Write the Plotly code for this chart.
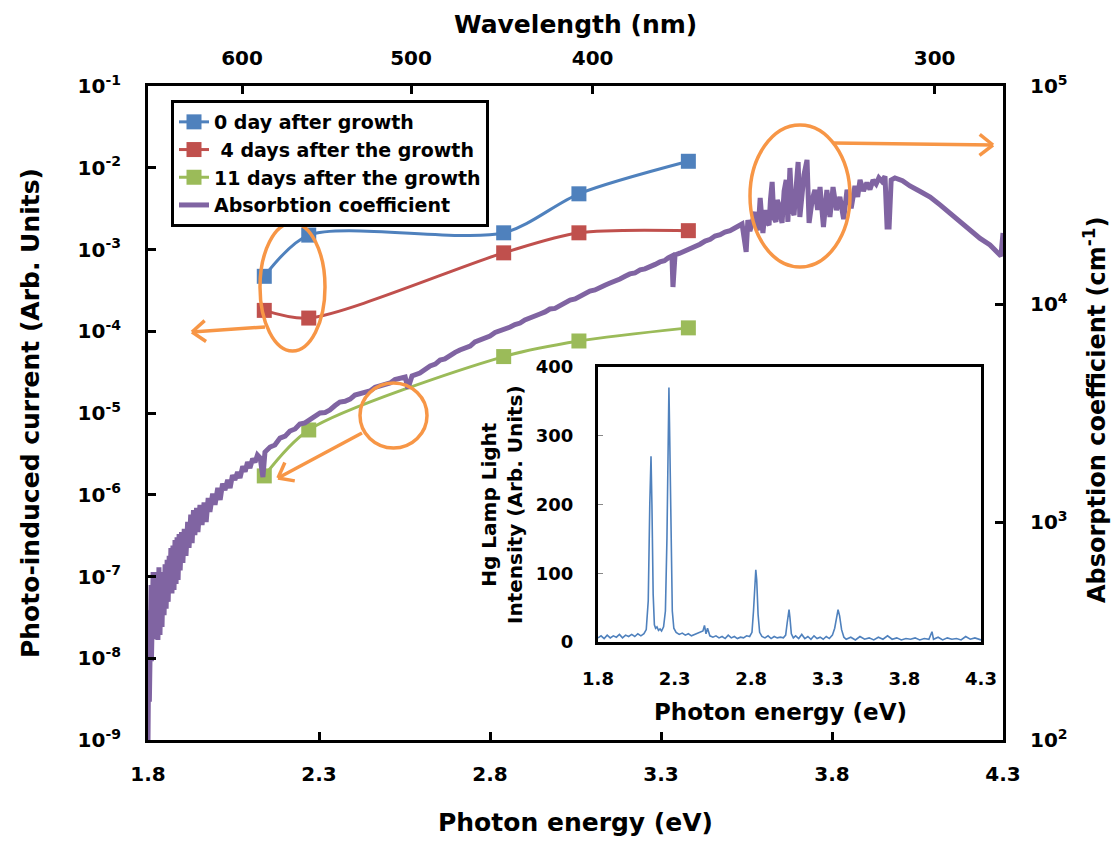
import math
import plotly.graph_objects as go

# ---------------- data ----------------
hg_energy = [2.14, 2.27, 2.84, 3.06, 3.38]          # Hg lamp lines (eV)
current_0day = [4.7e-4, 1.5e-3, 1.6e-3, 4.8e-3, 1.2e-2]
current_4days = [1.8e-4, 1.45e-4, 9.1e-4, 1.6e-3, 1.7e-3]
current_11days = [1.7e-6, 6.2e-6, 4.9e-5, 7.6e-5, 1.1e-4]

absorb_energy = [
    1.800, 1.801, 1.802, 1.803, 1.804, 1.806, 1.807, 1.809, 1.810, 1.812,
    1.813, 1.815, 1.818, 1.821, 1.823, 1.826, 1.829, 1.832, 1.835, 1.838,
    1.841, 1.844, 1.847, 1.850, 1.853, 1.856, 1.859, 1.862, 1.864, 1.867,
    1.870, 1.873, 1.876, 1.879, 1.882, 1.885, 1.888, 1.891, 1.894, 1.898,
    1.902, 1.906, 1.911, 1.916, 1.920, 1.925, 1.929, 1.933, 1.937, 1.942,
    1.946, 1.952, 1.958, 1.964, 1.970, 1.976, 1.981, 1.989, 1.996, 2.004,
    2.011, 2.018, 2.025, 2.033, 2.040, 2.047, 2.054, 2.062, 2.069, 2.077,
    2.084, 2.091, 2.098, 2.106, 2.113, 2.120, 2.128, 2.136, 2.142, 2.157,
    2.171, 2.186, 2.201, 2.215, 2.230, 2.244, 2.259, 2.274, 2.288, 2.303,
    2.318, 2.332, 2.347, 2.361, 2.376, 2.391, 2.405, 2.420, 2.435, 2.449,
    2.464, 2.478, 2.493, 2.508, 2.522, 2.537, 2.552, 2.560, 2.572, 2.595,
    2.610, 2.625, 2.640, 2.654, 2.668, 2.683, 2.698, 2.712, 2.727, 2.742,
    2.756, 2.771, 2.786, 2.800, 2.815, 2.829, 2.844, 2.859, 2.873, 2.888,
    2.902, 2.917, 2.932, 2.946, 2.961, 2.975, 2.990, 3.005, 3.019, 3.034,
    3.049, 3.063, 3.078, 3.092, 3.107, 3.122, 3.136, 3.151, 3.166, 3.180,
    3.195, 3.209, 3.224, 3.239, 3.253, 3.268, 3.283, 3.297, 3.310, 3.321,
    3.332, 3.335, 3.341, 3.355, 3.370, 3.385, 3.399, 3.414, 3.429, 3.444,
    3.458, 3.473, 3.487, 3.502, 3.516, 3.527, 3.537, 3.549, 3.554, 3.560,
    3.566, 3.571, 3.575, 3.580, 3.584, 3.590, 3.598, 3.603, 3.607, 3.612,
    3.616, 3.620, 3.625, 3.630, 3.636, 3.640, 3.645, 3.650, 3.654, 3.660,
    3.666, 3.671, 3.677, 3.683, 3.689, 3.695, 3.701, 3.706, 3.712, 3.718,
    3.727, 3.733, 3.742, 3.750, 3.758, 3.765, 3.775, 3.785, 3.794, 3.803,
    3.813, 3.823, 3.834, 3.844, 3.856, 3.867, 3.875, 3.882, 3.892, 3.902,
    3.911, 3.920, 3.929, 3.937, 3.946, 3.955, 3.961, 3.967, 3.973, 3.984,
    4.006, 4.028, 4.058, 4.087, 4.116, 4.145, 4.175, 4.204, 4.233, 4.262,
    4.294, 4.300,
]
absorb_coeff = [
    100, 330, 110, 394, 150, 439, 170, 514, 230, 560,
    259, 590, 300, 542, 290, 590, 288, 620, 303, 571,
    330, 590, 374, 640, 400, 670, 430, 700, 488, 760,
    470, 780, 488, 826, 520, 850, 542, 880, 600, 900,
    650, 930, 700, 1000, 760, 1080, 800, 1135, 871, 1160,
    900, 1197, 968, 1230, 1000, 1288, 1112, 1350, 1200, 1432,
    1262, 1500, 1400, 1559, 1432, 1640, 1560, 1694, 1592, 1800,
    1700, 1884, 1770, 1950, 1880, 2028, 1966, 1608, 2094, 2208,
    2255, 2427, 2477, 2614, 2671, 2816, 2850, 2938, 3050, 3162,
    3180, 3265, 3420, 3550, 3580, 3664, 3820, 3865, 3900, 3990,
    4150, 4207, 4250, 4343, 4500, 4579, 4624, 4100, 4677, 4822,
    5000, 5196, 5300, 5535, 5600, 5834, 6000, 6152, 6250, 6415,
    6700, 6839, 6950, 7129, 7400, 7516, 7650, 7838, 8050, 8179,
    8450, 8625, 8700, 8995, 9200, 9487, 9550, 9886, 10150, 10430,
    10550, 10880, 11200, 11470, 11600, 11970, 12200, 12480, 12700, 13020,
    13400, 13740, 13900, 14330, 14500, 14940, 15200, 15590, 15800, 16260,
    16600, 11970, 16790, 17100, 17500, 17900, 18450, 18800, 19450, 19800,
    20500, 20800, 21380, 21700, 22310, 22700, 23280, 17330, 24270, 21600,
    23030, 25200, 26420, 22500, 21820, 30630, 21170, 25500, 26980, 23500,
    23030, 30000, 36290, 24800, 23790, 30000, 28440, 25000, 23550, 33000,
    37070, 23790, 42070, 27000, 25590, 34000, 44790, 25070, 30000, 39080,
    45790, 23550, 29980, 33370, 26980, 34410, 22540, 33370, 25070, 34410,
    26980, 30970, 24500, 33370, 27500, 34790, 31000, 37070, 33000, 36000,
    33500, 37000, 35500, 37880, 36500, 38500, 22540, 22540, 37070, 37880,
    36800, 34790, 32800, 30970, 28500, 26000, 23800, 21600, 20000, 18670,
    16600, 21170,
]

lamp_energy = [
    1.80, 1.82, 1.84, 1.86, 1.88, 1.90, 1.92, 1.94, 1.96, 1.98,
    2.00, 2.02, 2.04, 2.06, 2.08, 2.10, 2.115, 2.128, 2.138, 2.146,
    2.152, 2.16, 2.168, 2.176, 2.185, 2.195, 2.205, 2.215, 2.228, 2.24,
    2.25, 2.258, 2.263, 2.268, 2.276, 2.285, 2.295, 2.31, 2.33, 2.35,
    2.37, 2.39, 2.41, 2.43, 2.45, 2.47, 2.485, 2.495, 2.505, 2.515,
    2.53, 2.55, 2.57, 2.59, 2.61, 2.63, 2.65, 2.67, 2.69, 2.71,
    2.73, 2.75, 2.77, 2.79, 2.805, 2.815, 2.824, 2.83, 2.836, 2.845,
    2.855, 2.87, 2.89, 2.91, 2.93, 2.95, 2.97, 2.99, 3.01, 3.025,
    3.035, 3.043, 3.047, 3.053, 3.062, 3.075, 3.09, 3.11, 3.13, 3.15,
    3.17, 3.19, 3.21, 3.23, 3.25, 3.27, 3.29, 3.31, 3.33, 3.345,
    3.357, 3.367, 3.377, 3.39, 3.405, 3.42, 3.45, 3.48, 3.51, 3.54,
    3.57, 3.60, 3.63, 3.66, 3.69, 3.72, 3.75, 3.78, 3.81, 3.84,
    3.87, 3.90, 3.93, 3.96, 3.98, 3.99, 4.02, 4.05, 4.08, 4.11,
    4.14, 4.17, 4.20, 4.23, 4.26, 4.30,
]
lamp_intensity = [
    6, 9, 5, 10, 6, 9, 7, 11, 6, 10,
    8, 11, 8, 12, 9, 12, 18, 60, 200, 270,
    200, 70, 25, 20, 22, 17, 19, 16, 22, 45,
    150, 300, 370, 300, 140, 45, 20, 14, 11, 13,
    10, 12, 9, 11, 12, 14, 16, 24, 12, 20,
    9, 7, 9, 6, 8, 5, 10, 6, 8, 5,
    7, 6, 9, 8, 14, 45, 95, 105, 90, 40,
    14, 8, 6, 9, 5, 8, 6, 7, 6, 10,
    28, 45, 47, 35, 12, 6, 9, 5, 11, 5,
    8, 4, 9, 5, 7, 4, 8, 5, 10, 20,
    38, 47, 38, 18, 7, 4, 7, 3, 8, 4,
    6, 3, 7, 4, 9, 4, 6, 3, 5, 4,
    6, 3, 5, 4, 15, 4, 7, 3, 6, 4,
    5, 3, 8, 4, 6, 3,
]

energy_ticks = [1.8, 2.3, 2.8, 3.3, 3.8, 4.3]
current_ticks = [1e-9, 1e-8, 1e-7, 1e-6, 1e-5, 1e-4, 1e-3, 1e-2, 1e-1]
current_tick_labels = [f"10<sup>{e}</sup>" for e in range(-9, 0)]
absorb_ticks = [1e2, 1e3, 1e4, 1e5]
absorb_tick_labels = [f"10<sup>{e}</sup>" for e in range(2, 6)]
wl_tick_energy = [2.075, 2.569, 3.10, 4.10]
wl_tick_labels = ["600", "500", "400", "300"]
lamp_ticks = [0, 100, 200, 300, 400]

# ---------------- styling ----------------
BLUE, RED, GREEN, PURPLE, ORANGE = "#4F81BD", "#C0504D", "#9BBB59", "#8064A2", "#F79646"
FONT = "DejaVu Sans"
W, H = 1119, 843
L, R, T, B = 148, 1003, 86, 740          # main plot frame in pixels


def to_paper(x, y):
    return (x - L) / (R - L), (B - y) / (B - T)


def bold(size):
    return dict(size=size, family=FONT, color="black", weight="bold")


fig = go.Figure()

for vals, name, col in [
    (current_0day, "0 day after growth", BLUE),
    (current_4days, " 4 days after the growth", RED),
    (current_11days, "11 days after the growth", GREEN),
]:
    fig.add_trace(go.Scatter(
        x=hg_energy, y=vals, name=name, mode="lines+markers",
        line=dict(color=col, width=3, shape="spline", smoothing=0.8),
        marker=dict(symbol="square", size=15, color=col),
        xaxis="x", yaxis="y",
    ))

fig.add_trace(go.Scatter(
    x=absorb_energy, y=absorb_coeff, name="Absorbtion coefficient", mode="lines",
    line=dict(color=PURPLE, width=5),
    xaxis="x2", yaxis="y2",
))

fig.add_trace(go.Scatter(
    x=lamp_energy, y=lamp_intensity, mode="lines", showlegend=False,
    line=dict(color=BLUE, width=1.6),
    xaxis="x3", yaxis="y3",
))

axis_common = dict(showline=True, linecolor="black", linewidth=3, ticks="inside",
                   tickcolor="black", tickwidth=3, ticklen=8, showgrid=False,
                   zeroline=False, tickfont=bold(20))

ix0, _ = to_paper(598, 0)
ix1, _ = to_paper(981, 0)
_, iy1 = to_paper(0, 367)
_, iy0 = to_paper(0, 642)

fig.update_layout(
    width=W, height=H,
    margin=dict(l=L, r=W - R, t=T, b=H - B),
    paper_bgcolor="white", plot_bgcolor="white",
    font=dict(family=FONT, color="black", weight="bold"),
    xaxis=dict(**axis_common, range=[1.8, 4.3], tickvals=energy_ticks,
               ticktext=[f"{v:.1f}" for v in energy_ticks], ticklabelstandoff=14,
               anchor="y"),
    yaxis=dict(**axis_common, type="log", range=[-9, -1], tickvals=current_ticks,
               ticktext=current_tick_labels, ticklabelstandoff=20, anchor="x"),
    xaxis2=dict(**axis_common, range=[1.8, 4.3], overlaying="x", side="top",
                tickvals=wl_tick_energy, ticktext=wl_tick_labels, anchor="y2",
                ticklabelstandoff=10),
    yaxis2=dict(**axis_common, type="log", range=[2, 5], overlaying="y", side="right",
                tickvals=absorb_ticks, ticktext=absorb_tick_labels, anchor="x2",
                ticklabelstandoff=20),
    xaxis3=dict(domain=[ix0, ix1], anchor="y3", range=[1.8, 4.3], showline=True,
                mirror=True, linecolor="black", linewidth=3, ticks="", showgrid=False,
                zeroline=False, tickvals=energy_ticks,
                ticktext=[f"{v:.1f}" for v in energy_ticks], ticklabelstandoff=18,
                tickfont=bold(18)),
    yaxis3=dict(domain=[iy0, iy1], anchor="x3", range=[0, 400], showline=True,
                mirror=True, linecolor="black", linewidth=3, ticks="inside",
                ticklen=5, tickwidth=1, tickcolor="#888888", showgrid=False,
                zeroline=False, tickvals=lamp_ticks, ticklabelstandoff=18,
                tickfont=bold(18)),
    legend=dict(x=to_paper(171, 0)[0], y=to_paper(0, 100)[1], xanchor="left",
                yanchor="top", bgcolor="white", bordercolor="black", borderwidth=3,
                font=bold(19), tracegroupgap=0, itemwidth=30),
    showlegend=True,
)

# axis titles
titles = [
    ("Photon energy (eV)", 575, 822, 0, 25),
    ("Wavelength (nm)", 575, 25, 0, 25),
    ("Photo-induced current (Arb. Units)", 30, 413, -90, 25),
    ("Absorption coefficient (cm<sup>-1</sup>)", 1095, 410, -90, 24),
    ("Photon energy (eV)", 780, 712, 0, 23),
    ("Hg Lamp Light<br>Intensity (Arb. Units)", 502, 505, -90, 20),
]
for text, px_, py_, ang, size in titles:
    ax_, ay_ = to_paper(px_, py_)
    fig.add_annotation(text=text, x=ax_, y=ay_, xref="paper", yref="paper",
                       showarrow=False, textangle=ang, xanchor="center", yanchor="middle",
                       font=bold(size))

# orange call-out ellipses
for x0, y0, x1, y1 in [(260, 223, 325, 351), (360, 383, 427, 448), (750, 125, 850, 267)]:
    a0, b1 = to_paper(x0, y0)
    a1, b0 = to_paper(x1, y1)
    fig.add_shape(type="circle", xref="paper", yref="paper", x0=a0, x1=a1, y0=b0, y1=b1,
                  line=dict(color=ORANGE, width=3.5))


def add_arrow(x0, y0, x1, y1, head=17, spread=math.radians(38)):
    pts = [(x0, y0, x1, y1)]
    ang = math.atan2(y1 - y0, x1 - x0)
    for s in (-spread, spread):
        pts.append((x1, y1, x1 - head * math.cos(ang + s), y1 - head * math.sin(ang + s)))
    for a, b, c, d in pts:
        p0 = to_paper(a, b)
        p1 = to_paper(c, d)
        fig.add_shape(type="line", xref="paper", yref="paper", x0=p0[0], y0=p0[1],
                      x1=p1[0], y1=p1[1], line=dict(color=ORANGE, width=3.5))


add_arrow(265, 327, 192, 332)
add_arrow(362, 433, 278, 478)
add_arrow(833, 143, 993, 145)

fig.write_html("out.html")
